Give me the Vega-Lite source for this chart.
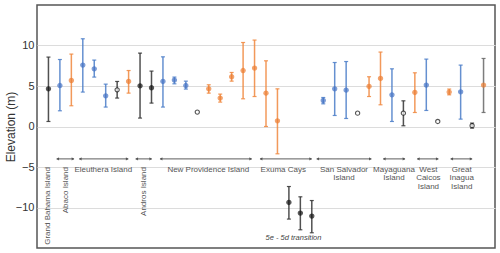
{
  "$schema": "https://vega.github.io/schema/vega-lite/v6.json",
  "autosize": "none",
  "width": 458,
  "height": 243,
  "padding": {"left": 37, "top": 5, "right": 5, "bottom": 5},
  "background": "white",
  "config": {
    "view": {"stroke": "#555", "strokeWidth": 1.5},
    "font": "Liberation Sans"
  },
  "datasets": {
    "pts": [
      {"slot": 1, "val": 4.65, "lo": 0.62, "hi": 8.57, "type": "c"},
      {"slot": 2, "val": 5.06, "lo": 1.94, "hi": 8.27, "type": "a"},
      {"slot": 3, "val": 5.68, "lo": 2.56, "hi": 8.94, "type": "b"},
      {"slot": 4, "val": 7.58, "lo": 4.25, "hi": 10.83, "type": "a"},
      {"slot": 5, "val": 7.12, "lo": 6.1, "hi": 8.2, "type": "a"},
      {"slot": 6, "val": 3.79, "lo": 2.4, "hi": 5.23, "type": "a"},
      {"slot": 7, "val": 4.53, "lo": 3.51, "hi": 5.56, "type": "d"},
      {"slot": 8, "val": 5.56, "lo": 4.12, "hi": 6.91, "type": "b"},
      {"slot": 9, "val": 5.02, "lo": 1.04, "hi": 9.06, "type": "c"},
      {"slot": 10, "val": 4.78, "lo": 2.89, "hi": 6.84, "type": "c"},
      {"slot": 11, "val": 5.56, "lo": 2.4, "hi": 8.6, "type": "a"},
      {"slot": 12, "val": 5.73, "lo": 5.27, "hi": 6.1, "type": "a"},
      {"slot": 13, "val": 5.06, "lo": 4.62, "hi": 5.6, "type": "a"},
      {"slot": 14, "val": 1.78, "lo": null, "hi": null, "type": "d"},
      {"slot": 15, "val": 4.65, "lo": 4.12, "hi": 5.15, "type": "b"},
      {"slot": 16, "val": 3.51, "lo": 3.01, "hi": 4.0, "type": "b"},
      {"slot": 17, "val": 6.14, "lo": 5.6, "hi": 6.67, "type": "b"},
      {"slot": 18, "val": 6.91, "lo": 3.42, "hi": 10.37, "type": "b"},
      {"slot": 19, "val": 7.21, "lo": 3.7, "hi": 10.67, "type": "b"},
      {"slot": 20, "val": 4.12, "lo": 0.0, "hi": 8.11, "type": "b"},
      {"slot": 21, "val": 0.7, "lo": -3.37, "hi": 4.65, "type": "b"},
      {"slot": 22, "val": -9.38, "lo": -11.43, "hi": -7.41, "type": "c"},
      {"slot": 23, "val": -10.69, "lo": -12.75, "hi": -8.68, "type": "c"},
      {"slot": 24, "val": -11.06, "lo": -13.12, "hi": -9.14, "type": "c"},
      {"slot": 25, "val": 3.21, "lo": 2.8, "hi": 3.58, "type": "a"},
      {"slot": 26, "val": 4.65, "lo": 1.36, "hi": 7.9, "type": "a"},
      {"slot": 27, "val": 4.49, "lo": 0.99, "hi": 8.02, "type": "a"},
      {"slot": 28, "val": 1.65, "lo": null, "hi": null, "type": "d"},
      {"slot": 29, "val": 4.94, "lo": 3.7, "hi": 6.14, "type": "b"},
      {"slot": 30, "val": 5.93, "lo": 2.68, "hi": 9.19, "type": "b"},
      {"slot": 31, "val": 3.91, "lo": 0.62, "hi": 7.12, "type": "a"},
      {"slot": 32, "val": 1.65, "lo": 0.09, "hi": 3.17, "type": "d"},
      {"slot": 33, "val": 4.2, "lo": 1.73, "hi": 6.63, "type": "b"},
      {"slot": 34, "val": 5.11, "lo": 1.98, "hi": 8.32, "type": "a"},
      {"slot": 35, "val": 0.62, "lo": null, "hi": null, "type": "d"},
      {"slot": 36, "val": 4.25, "lo": 3.91, "hi": 4.62, "type": "b"},
      {"slot": 37, "val": 4.28, "lo": 0.91, "hi": 7.58, "type": "a"},
      {"slot": 38, "val": 0.1, "lo": -0.2, "hi": 0.42, "type": "d"},
      {"slot": 39, "val": 5.11, "lo": 1.73, "hi": 8.4, "type": "e"}
    ],
    "arrows": [
      {"island": "Abaco Island", "x1": 1.72, "x2": 3.23, "y": -4},
      {"island": "Eleuthera Island", "x1": 3.69, "x2": 7.97, "y": -4},
      {"island": "Andros Island", "x1": 8.62, "x2": 10.02, "y": -4},
      {"island": "New Providence Island", "x1": 10.75, "x2": 18.75, "y": -4},
      {"island": "Exuma Cays", "x1": 19.48, "x2": 23.99, "y": -4},
      {"island": "San Salvador Island", "x1": 24.43, "x2": 29.2, "y": -4},
      {"island": "Mayaguana Island", "x1": 30.24, "x2": 32.14, "y": -4},
      {"island": "West Caicos Island", "x1": 33.21, "x2": 35.05, "y": -4},
      {"island": "Great Inagua Island", "x1": 36.13, "x2": 38.0, "y": -4}
    ],
    "hlabels": [
      {"label": "Eleuthera Island", "x": 5.79, "y": -5.0},
      {"label": "New Providence Island", "x": 14.96, "y": -5.0},
      {"label": "Exuma Cays", "x": 21.51, "y": -5.0},
      {"label": "San Salvador\nIsland", "x": 26.81, "y": -5.0},
      {"label": "Mayaguana\nIsland", "x": 31.18, "y": -5.0},
      {"label": "West\nCaicos\nIsland", "x": 34.18, "y": -5.0},
      {"label": "Great\nInagua\nIsland", "x": 37.09, "y": -5.0}
    ],
    "vlabels": [
      {"label": "Grand Bahama Island", "x": 0.99, "y": -5.0},
      {"label": "Abaco Island", "x": 2.53, "y": -5.0},
      {"label": "Andros Island", "x": 9.35, "y": -5.0}
    ],
    "notes": [
      {"label": "5e - 5d transition", "x": 22.4, "y": -13.78}
    ]
  },
  "layer": [
    {
      "data": {"name": "pts"},
      "transform": [{"filter": "datum.lo != null"}],
      "mark": {"type": "rule", "strokeWidth": 1.5, "opacity": 0.85},
      "encoding": {
        "x": {"field": "slot", "type": "quantitative", "scale": {"domain": [0, 40], "nice": false}, "axis": null},
        "y": {"field": "lo", "type": "quantitative", "scale": {"domain": [-15, 15], "nice": false},
          "axis": {"title": "Elevation (m)", "values": [-10, -5, 0, 5, 10], "ticks": false, "domain": false,
            "grid": true, "gridColor": "#dcdcdc", "gridWidth": 1, "labelFontSize": 11, "labelColor": "#333",
            "labelPadding": 3, "titleFontSize": 12, "titleFontWeight": "normal", "titleColor": "#333",
            "titleX": -27, "titleY": 121.5, "titleAngle": 270, "titleAlign": "center", "titleBaseline": "middle"}},
        "y2": {"field": "hi"},
        "color": {"field": "type", "type": "nominal", "legend": null,
          "scale": {"domain": ["a", "b", "c", "d", "e"], "range": ["#4a7cc8", "#f0873d", "#333333", "#333333", "#666666"]}}
      }
    },
    {
      "data": {"name": "pts"},
      "transform": [{"filter": "datum.lo != null"}],
      "mark": {"type": "tick", "orient": "horizontal", "size": 4, "thickness": 1.2, "opacity": 0.85},
      "encoding": {
        "x": {"field": "slot", "type": "quantitative"},
        "y": {"field": "lo", "type": "quantitative"},
        "color": {"field": "type", "type": "nominal", "legend": null}
      }
    },
    {
      "data": {"name": "pts"},
      "transform": [{"filter": "datum.hi != null"}],
      "mark": {"type": "tick", "orient": "horizontal", "size": 4, "thickness": 1.2, "opacity": 0.85},
      "encoding": {
        "x": {"field": "slot", "type": "quantitative"},
        "y": {"field": "hi", "type": "quantitative"},
        "color": {"field": "type", "type": "nominal", "legend": null}
      }
    },
    {
      "data": {"name": "pts"},
      "mark": {"type": "point", "shape": "circle", "filled": false, "strokeWidth": 1.1},
      "encoding": {
        "x": {"field": "slot", "type": "quantitative"},
        "y": {"field": "val", "type": "quantitative"},
        "size": {"field": "type", "type": "nominal", "legend": null,
          "scale": {"domain": ["a", "b", "c", "d", "e"], "range": [18, 18, 18, 10, 18]}},
        "fill": {"field": "type", "type": "nominal", "legend": null,
          "scale": {"domain": ["a", "b", "c", "d", "e"], "range": ["#4472c4", "#ed7d31", "#111111", "#ffffff", "#ed7d31"]}},
        "stroke": {"field": "type", "type": "nominal", "legend": null,
          "scale": {"domain": ["a", "b", "c", "d", "e"], "range": ["#4472c4", "#ed7d31", "#111111", "#111111", "#ed7d31"]}},
        "fillOpacity": {"value": 1}
      }
    },
    {
      "data": {"name": "arrows"},
      "mark": {"type": "rule", "color": "#333", "strokeWidth": 0.8},
      "encoding": {
        "x": {"field": "x1", "type": "quantitative"},
        "x2": {"field": "x2"},
        "y": {"field": "y", "type": "quantitative"}
      }
    },
    {
      "data": {"name": "arrows"},
      "mark": {"type": "point", "shape": "triangle-left", "filled": true, "color": "#333", "size": 10, "xOffset": 1},
      "encoding": {
        "x": {"field": "x1", "type": "quantitative"},
        "y": {"field": "y", "type": "quantitative"}
      }
    },
    {
      "data": {"name": "arrows"},
      "mark": {"type": "point", "shape": "triangle-right", "filled": true, "color": "#333", "size": 10, "xOffset": -1},
      "encoding": {
        "x": {"field": "x2", "type": "quantitative"},
        "y": {"field": "y", "type": "quantitative"}
      }
    },
    {
      "data": {"name": "hlabels"},
      "mark": {"type": "text", "fontSize": 8, "color": "#555", "align": "center", "baseline": "top", "lineBreak": "\n", "lineHeight": 8.3, "dy": -1},
      "encoding": {
        "x": {"field": "x", "type": "quantitative"},
        "y": {"field": "y", "type": "quantitative"},
        "text": {"field": "label"}
      }
    },
    {
      "data": {"name": "vlabels"},
      "mark": {"type": "text", "fontSize": 8, "color": "#555", "align": "right", "baseline": "middle", "angle": 270},
      "encoding": {
        "x": {"field": "x", "type": "quantitative"},
        "y": {"field": "y", "type": "quantitative"},
        "text": {"field": "label"}
      }
    },
    {
      "data": {"name": "notes"},
      "mark": {"type": "text", "fontSize": 7.5, "fontStyle": "italic", "color": "#444", "align": "center", "baseline": "middle"},
      "encoding": {
        "x": {"field": "x", "type": "quantitative"},
        "y": {"field": "y", "type": "quantitative"},
        "text": {"field": "label"}
      }
    }
  ]
}
